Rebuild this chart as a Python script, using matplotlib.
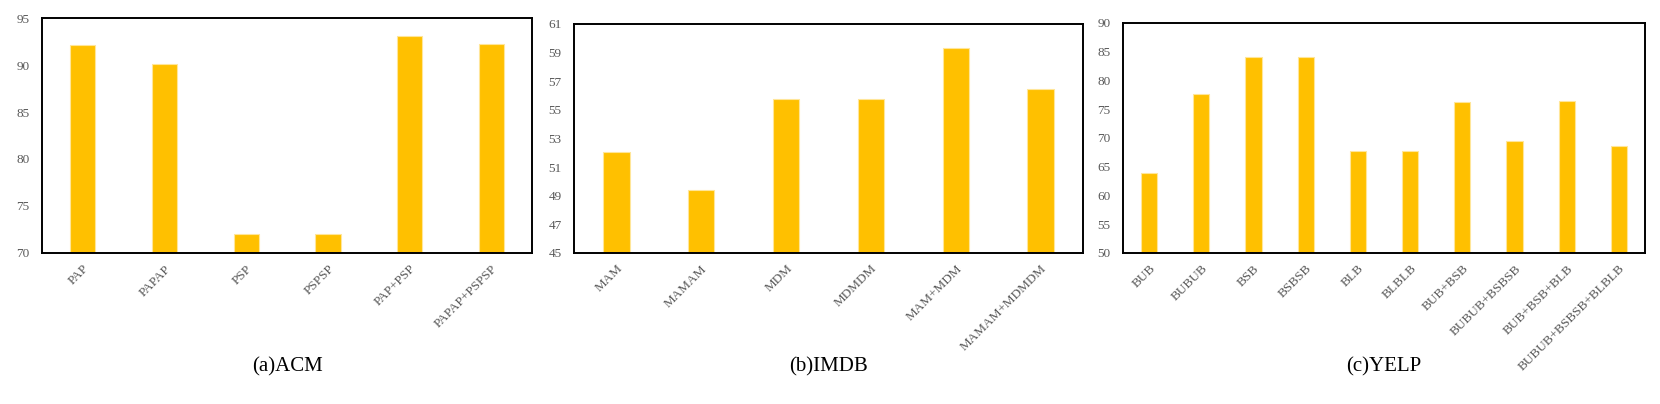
import matplotlib
matplotlib.use('Agg')
import matplotlib.pyplot as plt
import numpy as np

# Data
acm_labels = ['PAP', 'PAPAP', 'PSP', 'PSPSP', 'PAP+PSP', 'PAPAP+PSPSP']
acm_values = [92.16, 90.14, 72.02, 72.02, 93.08, 92.27]

imdb_labels = ['MAM', 'MAMAM', 'MDM', 'MDMDM', 'MAM+MDM', 'MAMAM+MDMDM']
imdb_values = [52.03, 49.40, 55.76, 55.76, 59.35, 56.43]

yelp_labels = ['BUB', 'BUBUB', 'BSB', 'BSBSB', 'BLB', 'BLBLB', 'BUB+BSB',
               'BUBUB+BSBSB', 'BUB+BSB+BLB', 'BUBUB+BSBSB+BLBLB']
yelp_values = [63.9, 77.73, 84.12, 84.12, 67.68, 67.68, 76.28, 69.42, 76.45, 68.6]

plt.rcParams['font.family'] = ['Liberation Serif', 'DejaVu Serif']

fig = plt.figure(figsize=(16.6, 4.04), dpi=100)

panels = [
    # (rect, labels, values, yticks, title)
    ([0.0253, 0.3738, 0.2952, 0.5816], acm_labels, acm_values, np.arange(70, 96, 5), '(a)ACM'),
    ([0.3458, 0.3738, 0.3066, 0.5668], imdb_labels, imdb_values, np.arange(45, 62, 2), '(b)IMDB'),
    ([0.6765, 0.3738, 0.3145, 0.5693], yelp_labels, yelp_values, np.arange(50, 91, 5), '(c)YELP'),
]

for rect, labels, values, yticks, title in panels:
    ax = fig.add_axes(rect)
    x = np.arange(len(labels))
    ax.bar(x, values, width=0.31, color='#FFC000', edgecolor='#FFE699', linewidth=0.8)
    ax.set_xlim(-0.5, len(labels) - 0.5)
    ax.set_ylim(yticks[0], yticks[-1])
    ax.set_yticks(yticks)
    ax.set_xticks(x)
    ax.set_xticklabels(labels, rotation=45, ha='right', rotation_mode='anchor')
    ax.tick_params(axis='both', length=0, labelsize=9.5, labelcolor='#595959')
    ax.tick_params(axis='y', pad=9)
    ax.tick_params(axis='x', pad=7)
    for s in ax.spines.values():
        s.set_linewidth(1.4)
        s.set_color('black')
    cx = rect[0] + rect[2] / 2
    fig.text(cx, 0.093, title, ha='center', va='center', fontsize=15, color='black')

plt.savefig('out.png', dpi=100)
